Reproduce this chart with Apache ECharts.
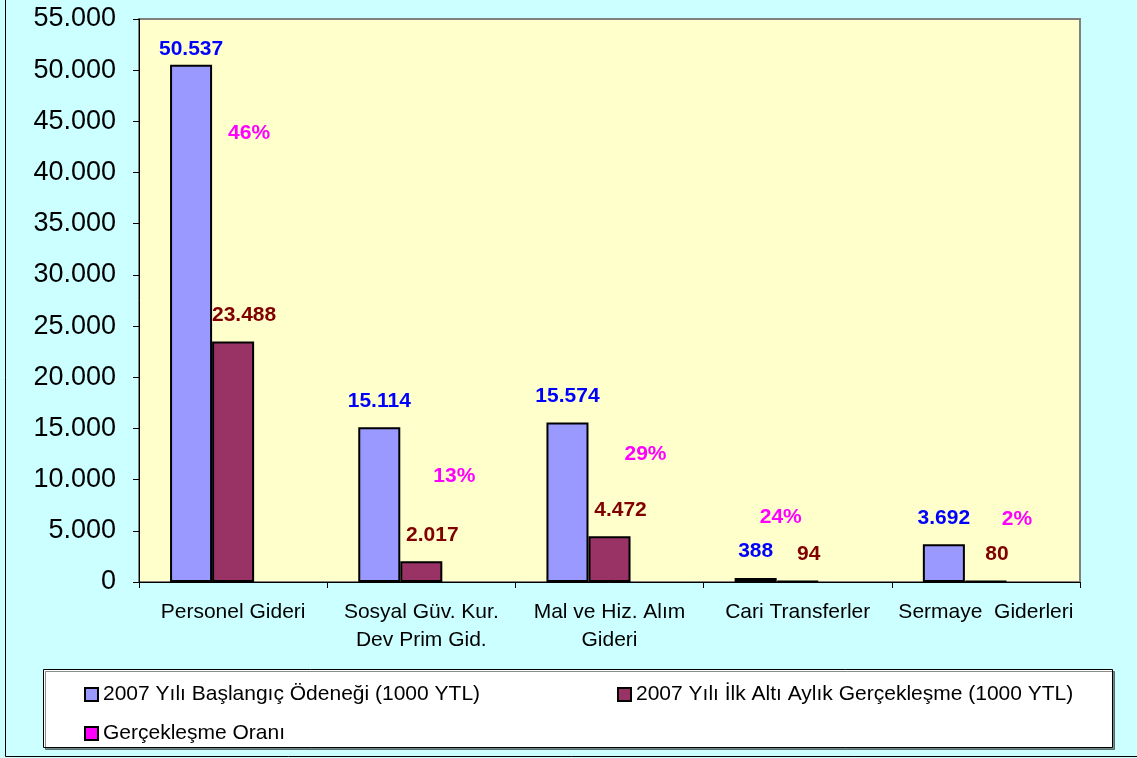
<!DOCTYPE html>
<html>
<head>
<meta charset="utf-8">
<script src="https://cdn.jsdelivr.net/npm/echarts@6/dist/echarts.min.js"></script>
<style>html,body{margin:0;padding:0;background:#CCFFFF;}#c{width:1137px;height:758px;}</style>
</head>
<body>
<div id="c"></div>
<script>
const categories = ['Personel Gideri', 'Sosyal Güv. Kur.\nDev Prim Gid.', 'Mal ve Hiz. Alım\nGideri', 'Cari Transferler', 'Sermaye  Giderleri'];
const seriesNames = ['2007 Yılı Başlangıç Ödeneği (1000 YTL)', '2007 Yılı İlk Altı Aylık Gerçekleşme (1000 YTL)', 'Gerçekleşme Oranı'];
const budget = [50537, 15114, 15574, 388, 3692];
const actual = [23488, 2017, 4472, 94, 80];
const ratioLabels = ['46%', '13%', '29%', '24%', '2%'];
const ratioLabelLevel = [42800, 9300, 11500, 5300, 5100];
const yMin = 0, yMax = 55000, yStep = 5000;

const fmt = v => String(v).replace(/\B(?=(\d{3})+(?!\d))/g, '.');
const FONT = '"Liberation Sans", Arial, sans-serif';
const ratioShift = [-26, -9, -6, -59, -11];

const chart = echarts.init(document.getElementById('c'));
chart.setOption({
  backgroundColor: '#CCFFFF',
  animation: false,
  textStyle: { fontFamily: FONT },
  graphic: [
    { type: 'rect', z: -10, shape: { x: 5.5, y: -5, width: 1150, height: 761.5 }, style: { fill: 'none', stroke: '#000', lineWidth: 1 } },
    { type: 'rect', z: -5, shape: { x: 43.5, y: 669.5, width: 1069, height: 78 },
      style: { fill: '#fff', stroke: '#000', lineWidth: 1, shadowColor: 'rgba(0,0,0,0.45)', shadowOffsetX: 2, shadowOffsetY: 2, shadowBlur: 0 } }
  ],
  grid: { left: 139, right: 57, top: 19, bottom: 176, show: true, backgroundColor: '#FFFFCC', borderColor: '#808080', borderWidth: 2 },
  legend: {
    left: 79, top: 675, width: 1040, itemGap: 10, itemWidth: 13, itemHeight: 13, itemTextGap: 5,
    icon: 'rect', selectedMode: false,
    textStyle: { fontSize: 21, color: '#000', lineHeight: 29, fontFamily: FONT },
    data: [
      { name: seriesNames[0], textStyle: { width: 504 }, itemStyle: { color: '#9999FF', borderColor: '#000', borderWidth: 2 } },
      { name: seriesNames[1], itemStyle: { color: '#993366', borderColor: '#000', borderWidth: 2 } },
      { name: seriesNames[2], itemStyle: { color: '#FF00FF', borderColor: '#000', borderWidth: 2 } }
    ]
  },
  xAxis: {
    type: 'category', data: categories,
    axisLine: { lineStyle: { color: '#000', width: 1 } },
    axisTick: { show: true, alignWithLabel: false, length: 6, lineStyle: { color: '#000' } },
    axisLabel: { color: '#000', fontSize: 21, lineHeight: 28, margin: 16, interval: 0, fontFamily: FONT },
    splitLine: { show: false }
  },
  yAxis: {
    type: 'value', min: yMin, max: yMax, interval: yStep,
    axisLine: { show: true, lineStyle: { color: '#000', width: 1 } },
    axisTick: { show: true, length: 6, lineStyle: { color: '#000' } },
    axisLabel: { color: '#000', fontSize: 27, margin: 23, formatter: v => fmt(v), fontFamily: FONT },
    splitLine: { show: false }
  },
  series: [
    {
      name: seriesNames[0], type: 'bar', barGap: '0%', barCategoryGap: '33%',
      itemStyle: { color: '#9999FF', borderColor: '#000', borderWidth: 2 },
      label: { show: true, position: 'top', distance: 16, color: '#0000FF', fontWeight: 'bold', fontSize: 21, fontFamily: FONT, formatter: p => fmt(p.value) },
      data: budget.map((v, i) => i === 0 ? { value: v, label: { distance: 5 } } : v)
    },
    {
      name: seriesNames[1], type: 'bar', barGap: '0%', barCategoryGap: '33%',
      itemStyle: { color: '#993366', borderColor: '#000', borderWidth: 2 },
      label: { show: true, position: 'top', distance: 16, offset: [11, 0], color: '#800000', fontWeight: 'bold', fontSize: 21, fontFamily: FONT, formatter: p => fmt(p.value) },
      data: actual
    },
    {
      name: seriesNames[2], type: 'bar', barGap: '0%', barCategoryGap: '33%',
      itemStyle: { color: 'rgba(0,0,0,0)', borderWidth: 0 },
      label: { show: true, position: 'top', distance: 0, color: '#FF00FF', fontWeight: 'bold', fontSize: 21, fontFamily: FONT, formatter: p => ratioLabels[p.dataIndex] },
      data: ratioLabelLevel.map((v, i) => ({ value: v, label: { offset: [ratioShift[i], 0] } }))
    }
  ]
});
</script>
</body>
</html>
